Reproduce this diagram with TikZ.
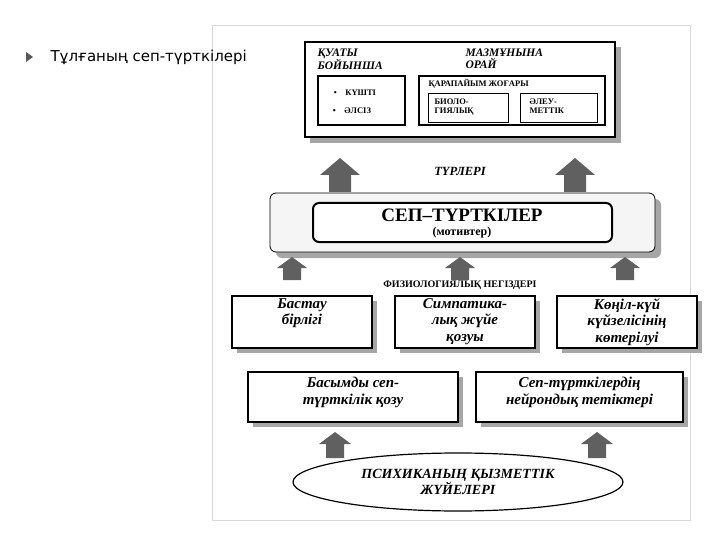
\documentclass[tikz,border=0pt]{standalone}
\usepackage{fontspec}
\setmainfont{Liberation Serif}
\newfontfamily\sanss{DejaVu Sans}
\usetikzlibrary{shapes.geometric}
\begin{document}
\begin{tikzpicture}[x=1pt,y=-1pt,
  bx/.style={draw,line width=1.6pt,fill=white,inner sep=0pt},
  shd/.style={fill=gray!70},
  fat/.style={fill=gray!75!black},
  ti/.style={font=\bfseries\itshape\fontsize{15}{16.5}\selectfont,align=center},
  sm/.style={font=\bfseries\fontsize{8.5}{9}\selectfont,align=left}]
\useasboundingbox (0,0) rectangle (720,540);
\fill[white] (0,0) rectangle (720,540);
\draw[gray!30] (212,25) rectangle (690,520);
% title
\fill[gray!70!black] (26,52) -- (33,57) -- (26,62) -- cycle;
\node[anchor=west,font=\sanss\fontsize{15}{15}\selectfont] (title) at (47,57) {Тұлғаның сеп-түрткілері};
% top box
\fill[shd] (310,47) rectangle (621,143);
\draw[bx] (305,42) rectangle (615,137);
\node[anchor=north west,align=left,font=\bfseries\itshape\fontsize{11.5}{12.5}\selectfont] (kuat) at (314,45) {ҚУАТЫ\\БОЙЫНША};
\node[anchor=north west,align=left,font=\bfseries\itshape\fontsize{11.5}{12.5}\selectfont] (mazm) at (462,45) {МАЗМҰНЫНА\\ОРАЙ};
\draw[line width=1.6pt] (318,76) rectangle (405,125);
\node[sm] (kushti) at (355,93) {•\quad КҮШТІ};
\node[sm] (alsiz) at (352,111) {•\quad ӘЛСІЗ};
\draw[line width=1.6pt] (419,76) rectangle (605,125);
\node[sm,anchor=west] (kar) at (425,84) {ҚАРАПАЙЫМ\ ЖОҒАРЫ};
\draw[line width=0.8pt] (428,93) rectangle (508,122);
\draw[line width=0.8pt] (520,93) rectangle (597,122);
\node[sm,anchor=north west] (bio) at (431,95) {БИОЛО-\\ГИЯЛЫҚ};
\node[sm,anchor=north west] (aley) at (526,95) {ӘЛЕУ-\\МЕТТІК};
% big arrows
\foreach \x in {340,575}{
  \fill[fat] (\x-11,192) -- (\x-11,175) -- (\x-20,175) -- (\x,158) -- (\x+20,175) -- (\x+11,175) -- (\x+11,192) -- cycle;}
\node[font=\bfseries\itshape\fontsize{12.5}{12.5}\selectfont] (turl) at (460,171) {ТҮРЛЕРІ};
% motiv
\fill[shd,rounded corners=6pt] (276,199) rectangle (661,258);
\draw[fill=gray!8,rounded corners=6pt,line width=0.8pt] (270,193) rectangle (655,252);
\draw[fill=white,rounded corners=6pt,line width=2pt] (313,203) rectangle (612,242);
\node[font=\bfseries\fontsize{19}{19}\selectfont] (sep) at (462,215) {СЕП–ТҮРТКІЛЕР};
\node[font=\bfseries\fontsize{12}{12}\selectfont] (motiv) at (462,233) {(мотивтер)};
% small arrows
\foreach \x in {292,460,625}{
  \fill[fat] (\x-9,280) -- (\x-9,268) -- (\x-15,268) -- (\x,257) -- (\x+15,268) -- (\x+9,268) -- (\x+9,280) -- cycle;}
\node[font=\bfseries\fontsize{10}{10}\selectfont,fill=white,inner sep=1pt] (fiz) at (460,285) {ФИЗИОЛОГИЯЛЫҚ НЕГІЗДЕРІ};
% three boxes
\foreach \a/\b/\t [count=\i] in {232/372/{Бастау\\бірлігі},395/535/{Симпатика-\\лық жүйе\\қозуы},557/697/{Көңіл-күй\\күйзелісінің\\көтерілуі}}{
  \fill[shd] (\a+5,301) rectangle (\b+5,353);
  \draw[bx] (\a,296) rectangle (\b,348);
  \node[ti,anchor=north,inner sep=2pt] (f\i) at ({(\a+\b)/2},296) {\t};}
% two boxes
\foreach \a/\b/\t [count=\i] in {248/458/{Басымды сеп-\\түрткілік қозу},476/683/{Сеп-түрткілердің\\нейрондық тетіктері}}{
  \fill[shd] (\a+5,377) rectangle (\b+5,427);
  \draw[bx] (\a,372) rectangle (\b,422);
  \node[ti,anchor=north] (g\i) at ({(\a+\b)/2},374) {\t};}
% bottom arrows
\foreach \x in {335,597}{
  \fill[fat] (\x-9,458) -- (\x-9,444) -- (\x-16,444) -- (\x,432) -- (\x+16,444) -- (\x+9,444) -- (\x+9,458) -- cycle;}
\node[ellipse,draw,line width=1.2pt,fill=white,minimum width=330pt,minimum height=58pt,align=center,font=\bfseries\itshape\fontsize{14}{15}\selectfont] (psy) at (458,482) {ПСИХИКАНЫҢ ҚЫЗМЕТТІК\\ЖҮЙЕЛЕРІ};
\end{tikzpicture}
\end{document}
